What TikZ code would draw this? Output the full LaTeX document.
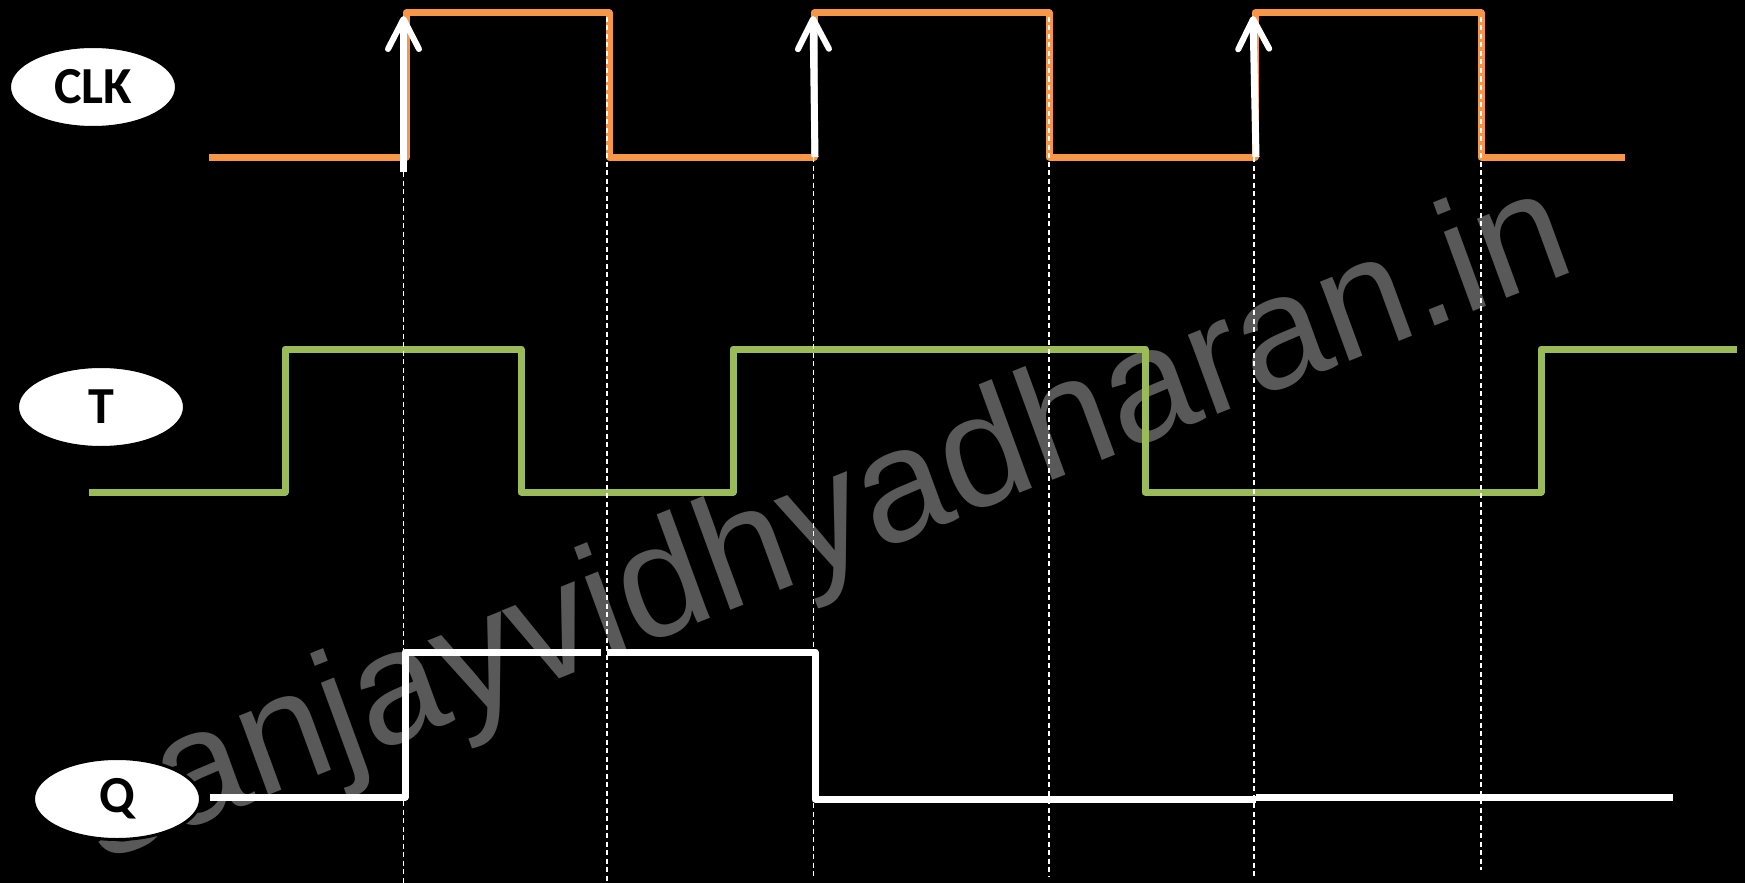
\documentclass[tikz,border=0pt]{standalone}
\usepackage{fontspec}
\newfontfamily\lblfont{Carlito}
\newfontfamily\wmfont{Liberation Sans}
\usetikzlibrary{shapes.geometric,arrows.meta}
\definecolor{clkorange}{HTML}{F79646}
\definecolor{tgreen}{HTML}{9BBB59}
\definecolor{wmgray}{HTML}{595959}

\begin{document}
\begin{tikzpicture}[x=1pt,y=-1pt,
  sig/.style={line width=7pt, line join=round},
  clksig/.style={sig, draw=clkorange},
  tsig/.style={sig, draw=tgreen},
  qsig/.style={sig, draw=white},
  edgemark/.style={draw=white, line width=1.4pt, dash pattern=on 5pt off 3.5pt},
  risearrow/.style={draw=white, line width=7pt,
    -{Straight Barb[length=30pt,width=31pt,line width=6pt,round]}},
  siglabel/.style={ellipse, fill=white, draw=black, line width=3pt,
    minimum width=167pt, minimum height=81pt, inner sep=0pt,
    font=\lblfont\bfseries\fontsize{52}{52}\selectfont, text=black}
]
% canvas
\fill[black] (0,0) rectangle (1745,883);
\useasboundingbox (0,0) rectangle (1745,883);

% watermark
\begin{scope}[shift={(101,863)}, cm={1.485,0.597,-0.55,1.50,(0,0)}]
  \node[transform shape, anchor=base west, inner sep=0pt, text=wmgray,
        font=\wmfont\fontsize{100}{100}\selectfont] (wm) at (0,0) {sanjayvidhyadharan.in};
\end{scope}

% T input
\draw[tsig] (89,492) -- (285,492) -- (285,349) -- (521,349) -- (521,492)
  -- (733,492) -- (733,349) -- (1145,349) -- (1145,492) -- (1541,492)
  -- (1541,349) -- (1737,349);

% Q output
\draw[qsig] (210,797) -- (405,797) -- (405,652) -- (601,652);
\draw[qsig] (607,652) -- (815,652) -- (815,799) -- (1256,799);
\draw[qsig] (1256,797) -- (1673,797);

% clock
\draw[clksig] (209,157) -- (406,157) -- (406,13) -- (609,13) -- (609,157)
  -- (814,157) -- (814,13) -- (1049,13) -- (1049,157) -- (1255,157)
  -- (1255,13) -- (1481,13) -- (1481,157) -- (1625,157);

% clock edge markers
\coordinate (r1b) at (403.5,172); \coordinate (r1t) at (403.5,16);
\coordinate (r2b) at (815,157);   \coordinate (r2t) at (813,16);
\coordinate (r3b) at (1256,157);  \coordinate (r3t) at (1253,16);
\coordinate (f1t) at (607,17);    \coordinate (f1b) at (607,883);
\coordinate (f2t) at (1049,17);   \coordinate (f2b) at (1049,877);
\coordinate (f3t) at (1481,17);   \coordinate (f3b) at (1481,870);
\coordinate (d1b) at (403.5,883);
\coordinate (d2b) at (813.5,877);
\coordinate (d3b) at (1254,877);

\draw[edgemark] (r1b) -- (d1b);
\draw[edgemark] (813.5,157) -- (d2b);
\draw[edgemark] (1254,157) -- (d3b);
\draw[edgemark] (f1t) -- (f1b);
\draw[edgemark] (f2t) -- (f2b);
\draw[edgemark] (f3t) -- (f3b);

\draw[risearrow] (r1b) -- (r1t);
\draw[risearrow] (r2b) -- (r2t);
\draw[risearrow] (r3b) -- (r3t);

% signal names
\node[siglabel] (clk) at (93,87) {CLK};
\node[siglabel] (t) at (101,407) {T};
\node[siglabel] (q) at (117,799) {Q};
\end{tikzpicture}
\end{document}
